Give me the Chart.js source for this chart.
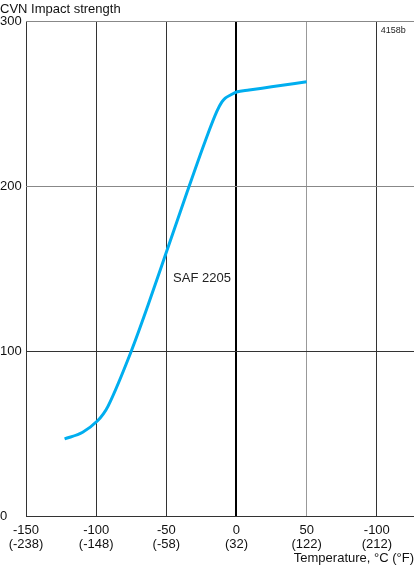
<!DOCTYPE html>
<html>
<head>
<meta charset="utf-8">
<script src="https://cdn.jsdelivr.net/npm/chart.js@4"></script>
<style>
  html, body { margin: 0; padding: 0; background: #fff; }
  #wrap { width: 414px; height: 566px; }
</style>
</head>
<body>
<div id="wrap"><canvas id="cvnChart" width="414" height="566"></canvas></div>
<script>
// Charpy V-notch curve, SAF 2205
const temps = [-122.5, -109.6, -99, -95, -91.5, -75, -63, -50, -35, -22.5, -14, -10.5, -8, -4.5, 0, 9, 25, 50];
const cvn = [46.8, 50.8, 57.8, 61.8, 66.7, 100, 128, 160, 197, 227, 245.5, 251.1, 253.6, 255.3, 257.3, 258.5, 260.4, 263.5];

const xTickValues = [-150, -100, -50, 0, 50, 100];
const xTickLabels = [['-150', '(-238)'], ['-100', '(-148)'], ['-50', '(-58)'], ['0', '(32)'], ['50', '(122)'], ['-100', '(212)']];
const yTickValues = [0, 100, 200, 300];

const FONT = "'Liberation Sans', Arial, sans-serif";

// figure number and curve label
const labelsPlugin = {
    id: 'labels',
    afterDraw(chart) {
        const { ctx, scales: { x, y }, chartArea } = chart;
        ctx.save();
        ctx.fillStyle = '#222';
        ctx.textBaseline = 'middle';
        ctx.textAlign = 'left';
        ctx.font = '9px ' + FONT;
        ctx.fillText('4158b', x.getPixelForValue(100) + 4, chartArea.top + 9);
        ctx.font = '13px ' + FONT;
        ctx.fillText('SAF 2205', x.getPixelForValue(-45.2), y.getPixelForValue(144));
        ctx.restore();
    }
};

const xGridColor = { '-150': '#333', '-100': '#333', '-50': '#333', '0': '#000', '50': '#999', '100': '#333' };
const yGridColor = { '0': '#333', '100': '#333', '200': '#888', '300': '#888' };

new Chart(document.getElementById('cvnChart').getContext('2d'), {
    type: 'line',
    data: {
        datasets: [{
            label: 'SAF 2205',
            data: temps.map((t, i) => ({ x: t, y: cvn[i] })),
            borderColor: '#00aeef',
            borderWidth: 3,
            pointRadius: 0,
            cubicInterpolationMode: 'monotone',
            fill: false
        }]
    },
    options: {
        responsive: false,
        animation: false,
        layout: { padding: 0 },
        plugins: {
            legend: { display: false },
            tooltip: { enabled: false },
            title: {
                display: true,
                text: 'CVN Impact strength',
                align: 'start',
                color: '#111',
                font: { family: FONT, size: 13, weight: 'normal' },
                padding: { top: 2, bottom: 4 }
            }
        },
        scales: {
            x: {
                type: 'linear',
                min: -150,
                max: 126.5,
                afterFit: (s) => { s.height = 50; },
                afterBuildTicks: (s) => { s.ticks = xTickValues.map(v => ({ value: v })); },
                border: { display: false },
                grid: {
                    drawTicks: false,
                    color: (c) => xGridColor[String(c.tick.value)] || '#333',
                    lineWidth: (c) => c.tick.value === 0 ? 2 : 1
                },
                ticks: {
                    padding: 8,
                    color: '#111',
                    font: { family: FONT, size: 13, lineHeight: 1.05 },
                    maxRotation: 0,
                    callback: (v) => xTickLabels[xTickValues.indexOf(v)]
                },
                title: {
                    display: true,
                    text: 'Temperature, °C (°F)',
                    align: 'end',
                    color: '#111',
                    font: { family: FONT, size: 13 },
                    padding: 0
                }
            },
            y: {
                min: 0,
                max: 300,
                afterFit: (s) => { s.width = 26; },
                afterBuildTicks: (s) => { s.ticks = yTickValues.map(v => ({ value: v })); },
                border: { display: false },
                grid: {
                    drawTicks: false,
                    color: (c) => yGridColor[String(c.tick.value)] || '#333'
                },
                ticks: {
                    padding: 4,
                    crossAlign: 'far',
                    color: '#111',
                    font: { family: FONT, size: 13 }
                }
            }
        }
    },
    plugins: [labelsPlugin]
});
</script>
</body>
</html>
